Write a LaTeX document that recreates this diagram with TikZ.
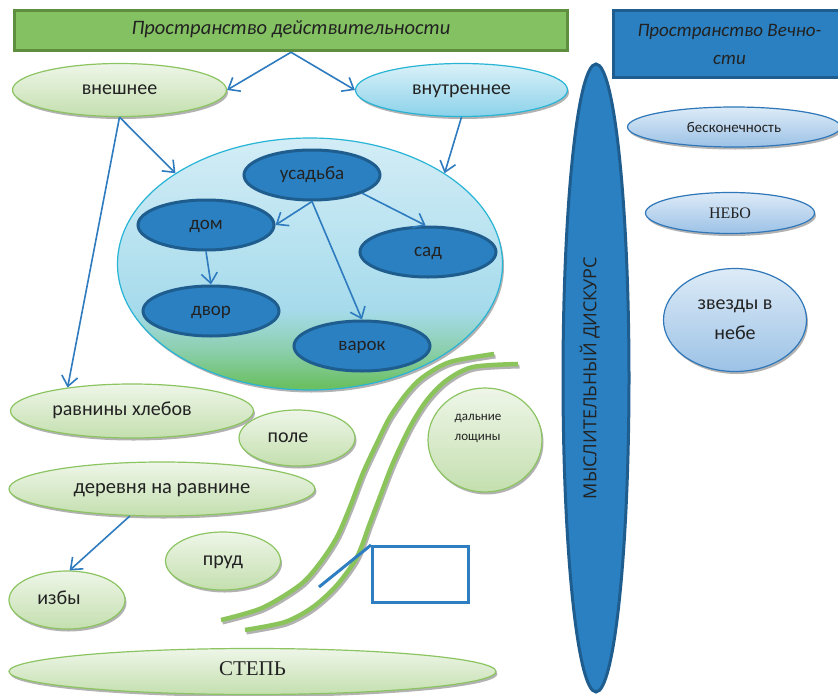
\documentclass[tikz,border=0pt]{standalone}
\usepackage{fontspec}
\setmainfont{Carlito}
\newfontfamily\tmsfont{Liberation Serif}
\newfontfamily\osfont{Open Sans}
\usetikzlibrary{arrows.meta,shapes.geometric,shadows}
\newcommand\fsz[2]{\fontsize{#1}{#2}\selectfont}
\definecolor{txt}{HTML}{222222}
\definecolor{bangr}{HTML}{84C162}
\definecolor{bangrb}{HTML}{5E8F3F}
\definecolor{dblue}{HTML}{2A80C1}
\definecolor{dblueb}{HTML}{1E5D8E}
\definecolor{gtop}{HTML}{EEF6E8}
\definecolor{gbot}{HTML}{C4DFAF}
\definecolor{gbord}{HTML}{8CC462}
\definecolor{ctop}{HTML}{DAF1F8}
\definecolor{cbot}{HTML}{8BD2EA}
\definecolor{cbord}{HTML}{27B4D5}
\definecolor{btop}{HTML}{DDEBF7}
\definecolor{bbot}{HTML}{9CC2E6}
\definecolor{bbord}{HTML}{2F77B8}
\definecolor{arrc}{HTML}{2F7BBF}
\definecolor{boxc}{HTML}{2E7EC1}
\definecolor{rivg}{HTML}{8BC45B}
\definecolor{rgrn}{HTML}{6CC064}
\definecolor{rmid}{HTML}{8CCFAE}
\definecolor{rblu}{HTML}{A6DBEC}
\definecolor{rtop}{HTML}{D3EDF6}
\pgfdeclareverticalshading{realmshade}{100bp}{color(0bp)=(rgrn); color(26bp)=(rgrn); color(33bp)=(rmid); color(41bp)=(rblu); color(75bp)=(rtop); color(100bp)=(rtop)}
\begin{document}
\begin{tikzpicture}[x=1pt,y=-1pt,
 shad/.style={drop shadow={shadow xshift=1.5pt, shadow yshift=-2.5pt, opacity=0.3, fill=black}},
 lowtext/.style={text height=1em, text depth=0.2em},
 gell/.style={ellipse, draw=gbord, line width=1.2pt, top color=gtop, bottom color=gbot, shad, inner sep=0pt, text=txt, font=\fsz{20}{24}, lowtext},
 cell/.style={ellipse, draw=cbord, line width=1.2pt, top color=ctop, bottom color=cbot, shad, inner sep=0pt, text=txt, font=\fsz{20}{24}, lowtext},
 bell/.style={ellipse, draw=bbord, line width=1.2pt, top color=btop, bottom color=bbot, shad, inner sep=0pt, text=txt},
 inell/.style={ellipse, draw=dblueb, line width=3pt, fill=dblue, minimum width=136, minimum height=50, inner sep=0pt, text=txt, font=\fsz{19}{23}, lowtext},
 conn/.style={draw=arrc, line width=1.6pt, -{Straight Barb[length=10pt,width=16pt,line width=1.6pt]}},
 river/.style={draw=rivg, line width=4.5pt},
 rivshadow/.style={draw=black!30, line width=4pt},
]
\useasboundingbox[fill=white] (0,0) rectangle (838,696);

% title banners
\node[draw=bangrb, line width=3pt, fill=bangr, minimum width=553, minimum height=40.5, inner sep=0pt, text=txt, font=\fsz{20.5}{24}\itshape, lowtext] (banner) at (291,30.5) {Пространство действительности};
\node[draw=dblueb, line width=3pt, fill=dblue, minimum width=232, minimum height=67, inner sep=0pt, align=center, text=txt, font=\fsz{19}{28}\itshape] (eternal) at (729.5,44) {Пространство Вечно-\\сти};

% upper ellipses
\node[gell, minimum width=214, minimum height=53] (vneshnee) at (119.5,90) {внешнее};
\node[cell, minimum width=212, minimum height=53] (vnutr) at (461.5,90) {внутреннее};

% big realm ellipse
\node[ellipse, draw=cbord, line width=1.2pt, shading=realmshade, shad, minimum width=385, minimum height=252, inner sep=0pt] (realm) at (310,264) {};

\node[inell] (usadba) at (312,175) {усадьба};
\node[inell] (dom) at (206,225) {дом};
\node[inell] (sad) at (428,252) {сад};
\node[inell] (dvor) at (211,311) {двор};
\node[inell] (varok) at (362,346) {варок};

% lower left ellipses
\node[gell, minimum width=243, minimum height=54] (ravniny) at (132,411) {\hspace*{-20pt}равнины хлебов};
\node[gell, minimum width=116, minimum height=56] (pole) at (297,438) {\hspace*{-18pt}поле};
\node[gell, minimum width=306, minimum height=54, font=\fsz{20.5}{24}] (derevnya) at (162,489) {деревня на равнине};
\node[gell, minimum width=115, minimum height=58] (prud) at (223,561) {пруд};
\node[gell, minimum width=116, minimum height=58] (izby) at (67,600) {\hspace*{-16pt}избы};
\node[gell, minimum width=487, minimum height=46, font=\tmsfont\fsz{21}{25}] (steppe) at (252.5,671.5) {СТЕПЬ};
\node[gell, minimum width=114, minimum height=104] (dalnie) at (485,440) {};
\node[text=txt, align=left, inner sep=0pt, font=\fsz{13}{20}] (dalnietxt) at (478,428) {дальние\\лощины};

% rivers
\draw[rivshadow, shift={(1.5,2.5)}] plot[smooth] coordinates {(221,620) (262,608) (300,585) (320,563) (337,537) (350,507) (363,473) (377,443) (390,417) (407,393) (423,377) (450,362) (494,354)};
\draw[river] plot[smooth] coordinates {(221,620) (262,608) (300,585) (320,563) (337,537) (350,507) (363,473) (377,443) (390,417) (407,393) (423,377) (450,362) (494,354)};
\draw[rivshadow, shift={(1.5,2.5)}] plot[smooth] coordinates {(245,630) (285,622) (313,607) (337,585) (357,557) (370,523) (381,494) (393,463) (410,427) (427,400) (447,380) (473,367) (518,364)};
\draw[river] plot[smooth] coordinates {(245,630) (285,622) (313,607) (337,585) (357,557) (370,523) (381,494) (393,463) (410,427) (427,400) (447,380) (473,367) (518,364)};

% blue box and stroke
\node[draw=boxc, line width=3pt, fill=white, minimum width=96, minimum height=56, inner sep=0pt] (box) at (420.5,574.5) {};
\coordinate (lnst) at (319,587);
\draw[draw=boxc, line width=3pt] (lnst) -- (box.north west);

% discourse ellipse
\node[ellipse, rotate=90, draw=dblueb, line width=3pt, fill=dblue, minimum width=628, minimum height=66, inner sep=0pt, text=txt, font=\osfont\fsz{18}{22}, text height=0.75em, text depth=0.7em] (disk) at (596,378) {МЫСЛИТЕЛЬНЫЙ ДИСКУРС};

% right ellipses
\node[bell, minimum width=213, minimum height=40, font=\fsz{15}{18}] (beskon) at (734,127) {бесконечность};
\node[bell, minimum width=169, minimum height=41, font=\tmsfont\fsz{16}{19}] (nebo) at (730,213) {НЕБО};
\node[bell, minimum width=143, minimum height=103, align=center, font=\fsz{20}{30}] (zvezdy) at (735,320) {звезды в\\небе};

% connectors
\draw[conn] (banner.south) -- (vneshnee.east);
\draw[conn] (banner.south) -- (vnutr.west);
\draw[conn] (vneshnee.south) -- (realm.146);
\draw[conn] (vneshnee.south) -- (ravniny.160);
\draw[conn] (vnutr.south) -- (realm.34);
\draw[conn] (usadba.south) -- (dom.east);
\draw[conn] (usadba.-20) -- (sad.95);
\draw[conn] (usadba.south) -- (varok.north);
\draw[conn] (dom.south) -- (dvor.north);
\draw[conn] (derevnya.-140) -- (izby.85);
\end{tikzpicture}
\end{document}
